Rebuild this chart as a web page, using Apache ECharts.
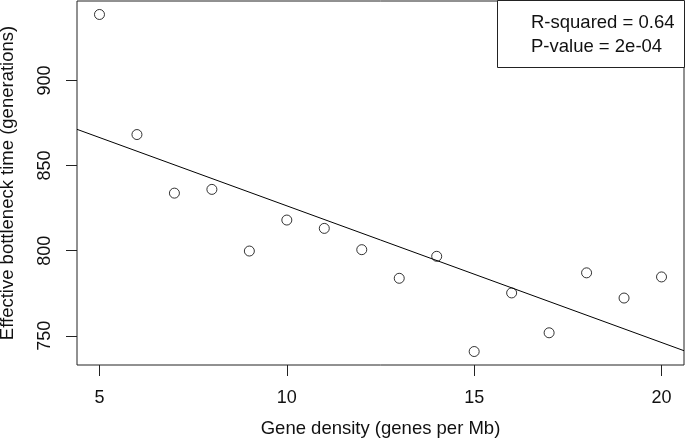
<!DOCTYPE html>
<html>
<head>
<meta charset="utf-8">
<script src="https://cdn.jsdelivr.net/npm/echarts@6/dist/echarts.min.js"></script>
<style>html,body{margin:0;padding:0;background:#fff}#c{width:685px;height:439px}</style>
</head>
<body>
<div id="c"></div>
<script>
const geneDensity = [5, 6, 7, 8, 9, 10, 11, 12, 13, 14, 15, 16, 17, 18, 19, 20];
const bottleneckTime = [938.7, 868.2, 833.8, 836.0, 799.8, 818.0, 813.1, 800.6, 783.8, 796.7, 740.8, 775.2, 751.8, 787.0, 772.2, 784.6];
const xTicks = [5, 10, 15, 20];
const yTicks = [750, 800, 850, 900];
const statLines = ['R-squared = 0.64', 'P-value = 2e-04'];

// least-squares fit (as abline(lm(...)))
const n = geneDensity.length;
const mx = geneDensity.reduce((a, b) => a + b, 0) / n;
const my = bottleneckTime.reduce((a, b) => a + b, 0) / n;
let sxy = 0, sxx = 0;
for (let i = 0; i < n; i++) { sxy += (geneDensity[i] - mx) * (bottleneckTime[i] - my); sxx += (geneDensity[i] - mx) ** 2; }
const slope = sxy / sxx, intercept = my - slope * mx;

// R-style 4% axis extension
function ext(arr) { const lo = Math.min(...arr), hi = Math.max(...arr), d = (hi - lo) * 0.04; return [lo - d, hi + d]; }
const [xMin, xMax] = ext(geneDensity);
const [yMin, yMax] = ext(bottleneckTime);

const chart = echarts.init(document.getElementById('c'));
const font = 'Liberation Sans, Arial, sans-serif';
chart.setOption({
  animation: false,
  grid: { left: 77, right: 1, top: 1, bottom: 74, show: true, borderColor: '#222', borderWidth: 1, backgroundColor: 'transparent', containLabel: false, outerBoundsMode: 'none' },
  xAxis: {
    type: 'value', min: xMin, max: xMax,
    name: 'Gene density (genes per Mb)', nameLocation: 'middle', nameGap: 54,
    nameTextStyle: { fontFamily: font, fontSize: 18.5, color: '#111' },
    axisLine: { show: false },
    axisTick: { show: true, length: 11, inside: false, customValues: xTicks, lineStyle: { color: '#222' } },
    axisLabel: { customValues: xTicks, margin: 24, fontFamily: font, fontSize: 18, color: '#111' },
    splitLine: { show: false }
  },
  yAxis: {
    type: 'value', min: yMin, max: yMax,
    name: 'Effective bottleneck time (generations)', nameLocation: 'middle', nameGap: 60,
    nameTextStyle: { fontFamily: font, fontSize: 18.5, color: '#111' },
    axisLine: { show: false },
    axisTick: { show: true, length: 11, inside: false, customValues: yTicks, lineStyle: { color: '#222' } },
    axisLabel: { customValues: yTicks, rotate: 90, margin: 23, fontFamily: font, fontSize: 18, color: '#111' },
    splitLine: { show: false }
  },
  series: [
    {
      type: 'scatter',
      data: geneDensity.map((x, i) => [x, bottleneckTime[i]]),
      symbol: 'circle', symbolSize: 10,
      itemStyle: { color: 'transparent', borderColor: '#000', borderWidth: 1 }
    },
    {
      type: 'line',
      data: [[xMin, intercept + slope * xMin], [xMax, intercept + slope * xMax]],
      symbol: 'none', lineStyle: { color: '#000', width: 1 }
    }
  ],
  graphic: [
    { type: 'rect', shape: { x: 497.5, y: 0.5, width: 187, height: 67 }, style: { fill: '#fff', stroke: '#222', lineWidth: 1 }, z: 10 },
    { type: 'text', x: 531, y: 23, style: { text: statLines[0], font: '18.5px ' + font, fill: '#111', textVerticalAlign: 'middle' }, z: 11 },
    { type: 'text', x: 531, y: 47, style: { text: statLines[1], font: '18.5px ' + font, fill: '#111', textVerticalAlign: 'middle' }, z: 11 }
  ]
});
</script>
</body>
</html>
